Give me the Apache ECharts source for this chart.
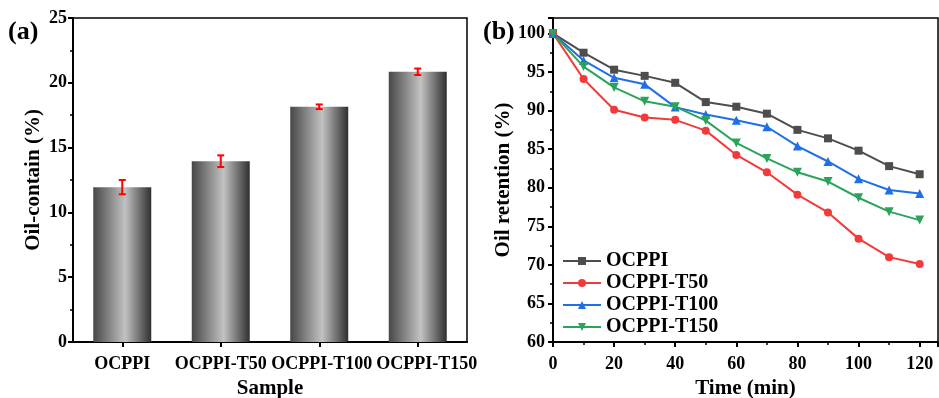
<!DOCTYPE html>
<html>
<head>
<meta charset="utf-8">
<script src="https://cdn.jsdelivr.net/npm/echarts@6/dist/echarts.min.js"></script>
<style>
  html, body { margin: 0; padding: 0; background: #fff; }
  #chart { width: 939px; height: 398px; }
</style>
</head>
<body>
<div id="chart"></div>
<script>
// (a) oil content per sample
const samples = ['OCPPI', 'OCPPI-T50', 'OCPPI-T100', 'OCPPI-T150'];
const oilContain = [11.95, 13.95, 18.15, 20.85];
const oilContainErr = [0.55, 0.45, 0.18, 0.25];

// (b) oil retention over time
const timeMin = [0, 10, 20, 30, 40, 50, 60, 70, 80, 90, 100, 110, 120];
const retOCPPI = [100, 97.5, 95.3, 94.5, 93.6, 91.1, 90.5, 89.6, 87.5, 86.4, 84.8, 82.8, 81.75];
const retT50   = [100, 94.1, 90.1, 89.1, 88.8, 87.4, 84.25, 82.0, 79.1, 76.8, 73.4, 71.0, 70.1];
const retT100  = [100, 96.5, 94.25, 93.4, 90.45, 89.5, 88.75, 87.9, 85.4, 83.4, 81.15, 79.7, 79.25];
const retT150  = [100, 95.7, 93.0, 91.2, 90.5, 88.7, 85.8, 83.8, 82.0, 80.8, 78.7, 76.9, 75.8];

const FONT = '"Liberation Serif", "Times New Roman", serif';
const tickLabel = { fontFamily: FONT, fontWeight: 'bold', fontSize: 18, color: '#000' };
const axisTitle = { fontFamily: FONT, fontWeight: 'bold', fontSize: 21, color: '#000' };

function pairs(ys) { return timeMin.map((t, i) => [t, ys[i]]); }

const chart = echarts.init(document.getElementById('chart'));

const barGradient = new echarts.graphic.LinearGradient(0, 0, 1, 0, [
  { offset: 0, color: '#474747' },
  { offset: 0.55, color: '#c2c2c2' },
  { offset: 1, color: '#2f2f2f' }
]);

const valueAxisCommon = {
  axisLine: { show: true, lineStyle: { color: '#000', width: 2 } },
  axisTick: { show: true, inside: false, length: 5, lineStyle: { color: '#000', width: 2 } },
  minorTick: { show: true, splitNumber: 2, length: 3, lineStyle: { color: '#000', width: 1.5 } },
  splitLine: { show: false },
  axisLabel: Object.assign({ margin: 6 }, tickLabel),
  nameTextStyle: axisTitle
};

// the longer sample labels are nudged right so neighbours do not touch
const labelNudge = [0, 0, 5, 18];
const sampleCategories = samples.map((s, i) =>
  labelNudge[i] ? { value: s, textStyle: { padding: [0, 0, 0, labelNudge[i]] } } : s
);

chart.setOption({
  animation: false,
  textStyle: { fontFamily: FONT },
  title: [
    { text: '(a)', left: 3, top: 14, textStyle: { fontFamily: FONT, fontWeight: 'bold', fontSize: 26, color: '#000' } },
    { text: '(b)', left: 478, top: 14, textStyle: { fontFamily: FONT, fontWeight: 'bold', fontSize: 26, color: '#000' } }
  ],
  grid: [
    { left: 73, top: 18, right: 472, bottom: 56, outerBoundsMode: 'none', containLabel: false,
      show: true, borderColor: '#000', borderWidth: 1.5, backgroundColor: 'transparent' },
    { left: 553, top: 18, right: 1, bottom: 56, outerBoundsMode: 'none', containLabel: false,
      show: true, borderColor: '#000', borderWidth: 1.5, backgroundColor: 'transparent' }
  ],
  legend: {
    orient: 'vertical',
    left: 557,
    top: 246,
    itemWidth: 38,
    itemHeight: 10,
    itemGap: 2,
    textStyle: { fontFamily: FONT, fontWeight: 'bold', fontSize: 20, color: '#000' },
    data: ['OCPPI', 'OCPPI-T50', 'OCPPI-T100', 'OCPPI-T150']
  },
  xAxis: [
    {
      gridIndex: 0,
      type: 'category',
      data: sampleCategories,
      boundaryGap: true,
      name: 'Sample',
      nameLocation: 'middle',
      nameGap: 34,
      nameTextStyle: axisTitle,
      axisLine: { lineStyle: { color: '#000', width: 2 } },
      axisTick: { show: true, alignWithLabel: true, length: 5, lineStyle: { color: '#000', width: 2 } },
      axisLabel: Object.assign({ margin: 13, interval: 0 }, tickLabel)
    },
    Object.assign({}, valueAxisCommon, {
      gridIndex: 1,
      type: 'value',
      min: 0,
      max: 126,
      interval: 20,
      name: 'Time (min)',
      nameLocation: 'middle',
      nameGap: 34,
      axisLabel: Object.assign({ margin: 13, showMaxLabel: false }, tickLabel)
    })
  ],
  yAxis: [
    Object.assign({}, valueAxisCommon, {
      gridIndex: 0,
      type: 'value',
      min: 0,
      max: 25,
      interval: 5,
      name: 'Oil-contain (%)',
      nameLocation: 'middle',
      nameGap: 29
    }),
    Object.assign({}, valueAxisCommon, {
      gridIndex: 1,
      type: 'value',
      min: 60,
      max: 102,
      interval: 5,
      name: 'Oil retention (%)',
      nameLocation: 'middle',
      nameGap: 36,
      axisLabel: Object.assign({ margin: 8, showMaxLabel: false }, tickLabel)
    })
  ],
  series: [
    {
      type: 'bar',
      xAxisIndex: 0,
      yAxisIndex: 0,
      barWidth: 58,
      data: oilContain,
      itemStyle: { color: barGradient }
    },
    {
      type: 'custom',
      xAxisIndex: 0,
      yAxisIndex: 0,
      z: 5,
      data: oilContain.map((v, i) => [i, v - oilContainErr[i], v + oilContainErr[i]]),
      renderItem: function (params, api) {
        const lo = api.coord([api.value(0), api.value(1)]);
        const hi = api.coord([api.value(0), api.value(2)]);
        const cap = 3.5;
        const style = { stroke: '#ff0000', lineWidth: 2 };
        return {
          type: 'group',
          children: [
            { type: 'line', shape: { x1: hi[0], y1: hi[1], x2: lo[0], y2: lo[1] }, style: style },
            { type: 'line', shape: { x1: hi[0] - cap, y1: hi[1], x2: hi[0] + cap, y2: hi[1] }, style: style },
            { type: 'line', shape: { x1: lo[0] - cap, y1: lo[1], x2: lo[0] + cap, y2: lo[1] }, style: style }
          ]
        };
      }
    },
    {
      name: 'OCPPI', type: 'line', xAxisIndex: 1, yAxisIndex: 1,
      data: pairs(retOCPPI), symbol: 'rect', symbolSize: 8,
      color: '#4d4d4d', lineStyle: { width: 2 }
    },
    {
      name: 'OCPPI-T50', type: 'line', xAxisIndex: 1, yAxisIndex: 1,
      data: pairs(retT50), symbol: 'circle', symbolSize: 8,
      color: '#f23a3a', lineStyle: { width: 2 }
    },
    {
      name: 'OCPPI-T100', type: 'line', xAxisIndex: 1, yAxisIndex: 1,
      data: pairs(retT100), symbol: 'triangle', symbolSize: 9,
      color: '#1f6fe6', lineStyle: { width: 2 }
    },
    {
      name: 'OCPPI-T150', type: 'line', xAxisIndex: 1, yAxisIndex: 1,
      data: pairs(retT150), symbol: 'triangle', symbolRotate: 180, symbolSize: 9,
      color: '#2aa35b', lineStyle: { width: 2 }
    }
  ]
});
</script>
</body>
</html>
